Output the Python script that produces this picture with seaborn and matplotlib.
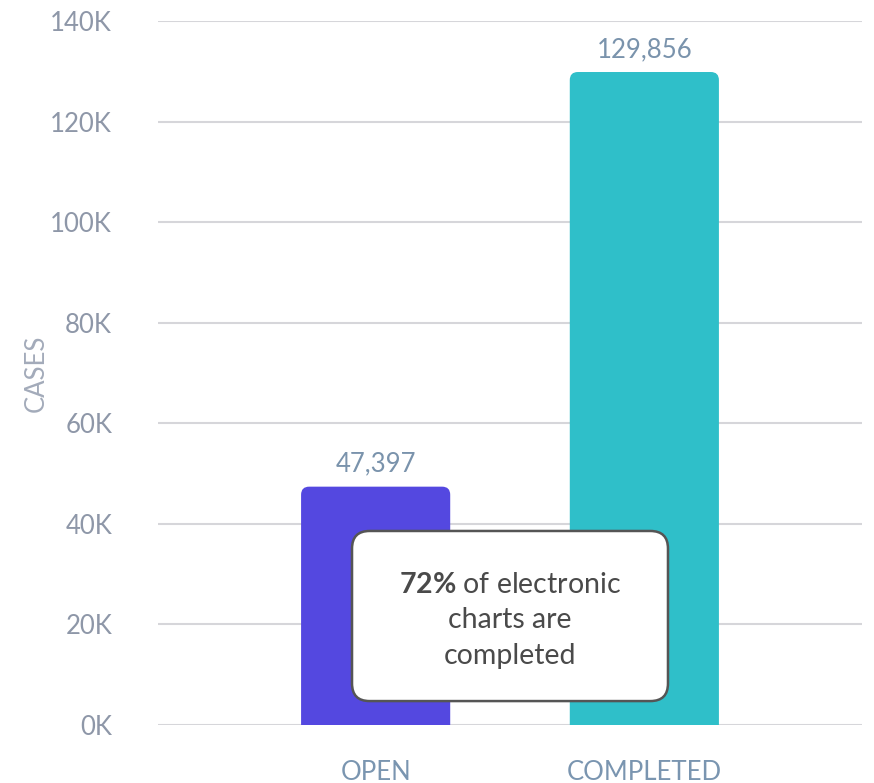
import matplotlib
matplotlib.use("Agg")
import matplotlib.pyplot as plt
import seaborn as sns
import pandas as pd
from matplotlib.patches import FancyBboxPatch
from matplotlib.ticker import FuncFormatter

categories = ["OPEN", "COMPLETED"]
values = [47397, 129856]
bar_colors = ["#5448E0", "#2FBFC9"]
yticks = [0, 20000, 40000, 60000, 80000, 100000, 120000, 140000]

sns.set_theme(style="white")
plt.rcParams["font.family"] = ["Lato", "DejaVu Sans"]
plt.rcParams["mathtext.fontset"] = "custom"
plt.rcParams["mathtext.rm"] = "Lato"
plt.rcParams["mathtext.bf"] = "Lato:bold"

df = pd.DataFrame({"status": categories, "cases": values})

fig = plt.figure(figsize=(8.74, 7.83), dpi=100)
ax = fig.add_axes([158/874, 1-725/783, 704/874, 704/783])

sns.barplot(data=df, x="status", y="cases", hue="status", palette=bar_colors,
            saturation=1, width=0.555, legend=False, ax=ax, zorder=3)

ax.set_xlim(-0.81, 1.81)
ax.set_ylim(0, 140000)
ax.set_yticks(yticks)
ax.yaxis.set_major_formatter(FuncFormatter(lambda v, p: f"{int(v/1000)}K"))
ax.grid(axis="y", color="#d6d6da", linewidth=1.5, zorder=0)
ax.grid(axis="x", visible=False)
for s in ax.spines.values():
    s.set_visible(False)
ax.tick_params(axis="y", length=0, pad=33, labelsize=18.5, labelcolor="#8e97a8")
ax.tick_params(axis="x", length=0, pad=25, labelsize=18.5, labelcolor="#7a95b0")
ax.set_xlabel("")
ax.set_ylabel("CASES", fontsize=18.5, color="#a3abba", labelpad=1)

# rounded tops
for p in list(ax.patches):
    x0, w, h = p.get_x(), p.get_width(), p.get_height()
    fc = p.get_facecolor()
    p.set_visible(False)
    r = 0.03
    asp = (140000/704) / (2.62/704)
    fb = FancyBboxPatch((x0, -5000), w, h + 5000,
                        boxstyle=f"round,pad=0,rounding_size={r}",
                        mutation_aspect=asp, facecolor=fc, edgecolor="none",
                        zorder=3, clip_on=True)
    ax.add_patch(fb)
    ax.text(x0 + w/2, h + 2000, f"{int(h):,}", ha="center", va="bottom",
            fontsize=18.5, color="#7a93ac", zorder=4)

box = FancyBboxPatch((0.2756, 0.034), 0.4488, 0.2416,
                     boxstyle="round,pad=0,rounding_size=0.025",
                     transform=ax.transAxes, facecolor="white",
                     edgecolor="#555555", linewidth=1.8, zorder=5)
ax.add_patch(box)
ax.text(0.5, 0.149, "$\\mathbf{72\\%}$ of electronic\ncharts are\ncompleted",
        transform=ax.transAxes, ha="center", va="center", multialignment="center",
        fontsize=20.5, color="#4a4a4a", linespacing=1.45, zorder=6)

fig.savefig("out.png", dpi=100)
